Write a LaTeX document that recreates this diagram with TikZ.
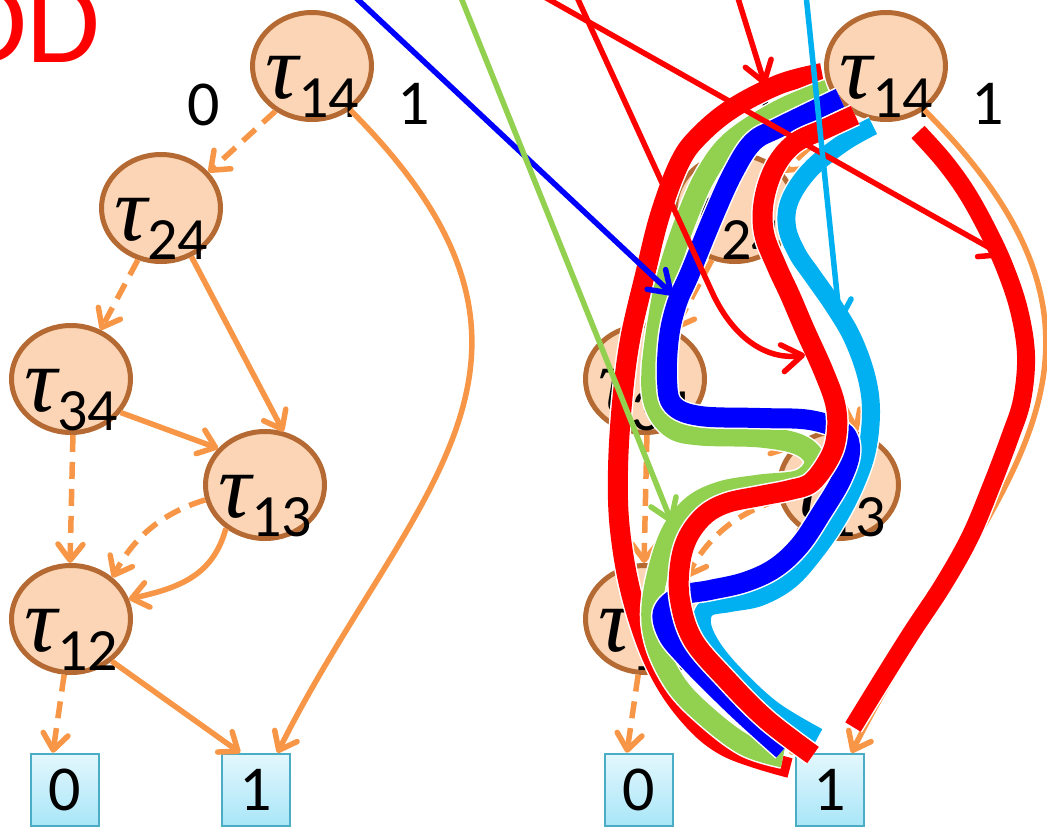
\documentclass[tikz,border=0pt]{standalone}
\usepackage{fontspec}
\setmainfont{Carlito}
\newfontfamily\taufont{Liberation Serif}
\usetikzlibrary{arrows.meta,calc,shapes.geometric}
\definecolor{edgeor}{HTML}{F79646}
\definecolor{nodefill}{HTML}{FBD5B5}
\definecolor{nodeline}{HTML}{B46A32}
\definecolor{boxtop}{HTML}{E3F7FD}
\definecolor{boxbot}{HTML}{A8E6F8}
\definecolor{boxline}{HTML}{4BACC6}
\definecolor{pgreen}{HTML}{92D050}
\definecolor{pcyan}{HTML}{00B0F0}
\definecolor{pblue}{HTML}{0000FF}
\definecolor{pred}{HTML}{FF0000}
\newcommand\tlab[1]{{\taufont\itshape\fontsize{92}{92}\selectfont τ}\raisebox{-19pt}{\fontsize{60}{60}\selectfont #1}}
\tikzset{
 tnode/.style={ellipse, draw=nodeline, fill=nodefill, line width=5pt, minimum width=119pt, minimum height=107pt, inner sep=0pt},
 tname/.style={label={[anchor=base,yshift=-21pt,inner sep=0pt]center:\tlab{#1}}},
 tbox/.style={rectangle, draw=boxline, line width=2.5pt, top color=boxtop, bottom color=boxbot, minimum width=68pt, minimum height=72pt, inner sep=0pt, font=\fontsize{64}{64}\selectfont},
 numlab/.style={inner sep=0pt, font=\fontsize{64}{64}\selectfont},
 otip/.style={-{Straight Barb[length=16pt,width=25pt,round]}},
 oedge/.style={draw=edgeor, line width=5.5pt, otip},
 odash/.style={oedge, dash pattern=on 17pt off 10pt},
 ctip/.style={-{Straight Barb[length=20pt,width=27pt,round]}},
 thinarrow/.style={line width=5.5pt, ctip},
 hipath/.style={line width=#1, line cap=butt, line join=round, preaction={draw=white, line width=#1+3pt}},
}
\newcommand\bddgraph{%
 \node[tnode,tname=14] (t14) at (312,66) {};
 \node[tnode,tname=24] (t24) at (161,208) {};
 \node[tnode,tname=34] (t34) at (71,379) {};
 \node[tnode,tname=13] (t13) at (265,485) {};
 \node[tnode,tname=12] (t12) at (71,619) {};
 \node[tbox] (b0) at (65,790) {0};
 \node[tbox] (b1) at (256,790) {1};
 \node[numlab] (l0) at (204,105) {0};
 \node[numlab] (l1) at (414,104) {1};
 \draw[odash] (t14.231) -- (t24.37);
 \draw[odash] (t24.246) -- (t34.59);
 \draw[oedge] (t24.-58) -- (t13.71);
 \draw[oedge] (t34.-34) -- (t13.142);
 \draw[odash] (t34.-88) -- (t12.91);
 \draw[odash] (t13.194) .. controls +(-43,13) and +(21,-40) .. (t12.45);
 \draw[oedge] (t13.228) .. controls +(-13,48) and +(49,-11) .. (t12.19);
 \draw[odash] (t12.-97) -- (b0.108);
 \draw[oedge] (t12.-46) -- (b1.113);
 \draw[oedge] (t14.-49) .. controls +(250,250) and +(130,-260) .. (b1.60);
}
\begin{document}
\begin{tikzpicture}[x=1pt,y=-1pt]
\useasboundingbox (0,0) rectangle (1047,828);
\node[text=pred, font=\fontsize{120}{120}\selectfont, anchor=base east, inner sep=0pt] (title) at (101,62) {DD};
\begin{scope}[name prefix=l-]
 \bddgraph
\end{scope}
\begin{scope}[xshift=574pt, name prefix=r-]
 \bddgraph
\end{scope}
% highlighted paths
\draw[hipath=20pt, draw=pred] plot[smooth, tension=0.6] coordinates {(822,73) (780,84) (733,108) (700,135) (680,162) (660,215) (645,275) (630,340) (622,403) (618,470) (620,530) (632,597) (655,663) (687,713) (727,747) (790,768)};
\draw[hipath=18pt, draw=pcyan] plot[smooth, tension=0.6] coordinates {(873,126) (843,143) (810,170) (790,200) (787,227) (797,253) (812,275) (833,305) (852,337) (866,375) (871,410) (867,450) (855,485) (837,520) (815,552) (790,580) (760,597) (730,603) (707,608) (702,624) (712,647) (735,675) (773,710) (818,737)};
\draw[hipath=21pt, draw=pgreen] plot[smooth, tension=0.6] coordinates {(828,90) (780,110) (733,140) (707,173) (687,217) (670,267) (660,310) (652,370) (655,405) (672,428) (700,435) (760,437) (800,445) (815,462) (800,480) (760,485) (720,492) (690,508) (668,540) (653,597) (655,640) (675,683) (705,715) (745,745) (783,757)};
\draw[hipath=20pt, draw=pblue] plot[smooth, tension=0.6] coordinates {(840,98) (780,127) (753,142) (733,173) (713,217) (690,273) (677,303) (669,337) (667,380) (673,405) (700,416) (760,418) (810,420) (843,432) (850,452) (841,480) (822,512) (800,545) (775,568) (745,582) (710,590) (680,596) (663,612) (668,635) (685,656) (708,680) (742,713) (783,750)};
\draw[hipath=20pt, draw=pred] plot[smooth, tension=0.6] coordinates {(855,115) (827,128) (795,143) (775,167) (764,200) (764,233) (777,267) (790,295) (805,330) (823,370) (835,403) (837,430) (831,455) (812,482) (790,490) (760,496) (727,503) (705,515) (688,537) (680,565) (680,600) (693,640) (727,680) (767,720) (813,755)};
\draw[hipath=18pt, draw=pred] plot[smooth, tension=0.6] coordinates {(918,132) (944,161) (967,193) (988,231) (1005,268) (1019,310) (1026,355) (1022,400) (1010,437) (991,487) (970,537) (943,585) (912,632) (880,683) (853,727)};
% thin arrows from above
\coordinate (sb) at (353,-5);
\coordinate (sg) at (460,-5);
\coordinate (sa) at (541,-5);
\coordinate (sr) at (576,-5);
\coordinate (sc) at (737,-5);
\coordinate (sy) at (806,-5);
\coordinate (eb) at (673,295);
\coordinate (eg) at (672,523);
\coordinate (ea) at (1004,256);
\coordinate (mr) at (712,292);
\coordinate (er) at (805,355);
\coordinate (ec) at (765,85);
\coordinate (ey) at (840,323);
\draw[thinarrow, draw=pblue] (sb) -- (eb);
\draw[thinarrow, draw=pgreen] (sg) -- (eg);
\draw[thinarrow, draw=pred] (sa) -- (ea);
\draw[thinarrow, draw=pred] (sr) -- (mr) .. controls (735,342) and (770,360) .. (er);
\draw[thinarrow, draw=pred] (sc) -- (ec);
\draw[thinarrow, draw=pcyan] (sy) -- (ey);
\end{tikzpicture}
\end{document}
